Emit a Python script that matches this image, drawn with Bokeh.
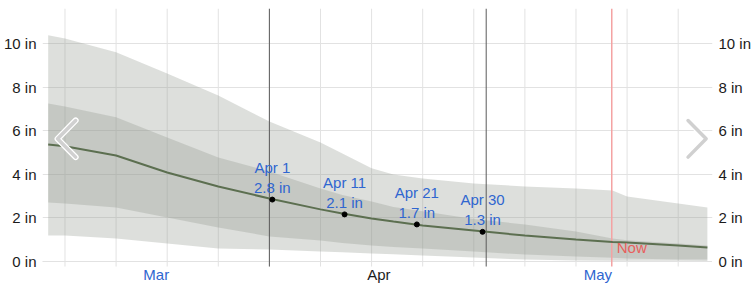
from bokeh.plotting import figure
from bokeh.models import Range1d, FixedTicker, LinearAxis, Span, Label
from bokeh.core.properties import value
from bokeh.embed import file_html
from bokeh.resources import INLINE

# ---- data (days since Mar 1, inches) ----
days = [0.7, 3, 10, 17, 24, 31, 38, 41, 45, 48, 52, 59, 66, 73, 78, 80, 87, 91]
outer_high = [10.37, 10.23, 9.59, 8.62, 7.61, 6.42, 5.46, 4.95, 4.27, 3.99, 3.81, 3.58, 3.44, 3.35, 3.26, 2.98, 2.66, 2.48]
inner_high = [7.25, 7.11, 6.61, 5.69, 4.77, 4.13, 3.35, 3.05, 2.75, 2.50, 2.30, 1.95, 1.70, 1.38, 1.06, 0.98, 0.83, 0.73]
median = [5.37, 5.28, 4.86, 4.08, 3.44, 2.89, 2.39, 2.20, 1.97, 1.83, 1.65, 1.42, 1.19, 1.01, 0.89, 0.87, 0.73, 0.64]
inner_low = [2.71, 2.66, 2.48, 2.02, 1.56, 1.15, 0.96, 0.85, 0.73, 0.66, 0.60, 0.46, 0.32, 0.23, 0.17, 0.14, 0.09, 0.09]
outer_low = [1.19, 1.19, 1.06, 0.83, 0.60, 0.55, 0.46, 0.42, 0.37, 0.33, 0.28, 0.18, 0.09, 0.05, 0.04, 0.04, 0.03, 0.02]

point_dates = ["Apr 1", "Apr 11", "Apr 21", "Apr 30"]
point_days = [31.4, 41.3, 51.2, 60.2]
point_values = [2.84, 2.16, 1.70, 1.36]
label_values = [2.8, 2.1, 1.7, 1.3]

marker_days = [31.0, 60.7]
now_day = 77.9
months = ["Mar", "Apr", "May"]
month_start_days = [0, 31, 61]
month_colors = ["#2f66d0", "#1b1b1b", "#2f66d0"]
y_ticks = [0, 2, 4, 6, 8, 10]
first_week_day = 3  # Mar 4

FONT = "Liberation Sans"
X0, X1 = -0.08, 91.7
GRID_BOTTOM = -0.23          # where the vertical rules stop
Y0, Y1 = -1.10, 11.6         # frame also holds the month row

p = figure(width=754, height=285, output_backend="svg", toolbar_location=None,
           x_range=Range1d(X0, X1), y_range=Range1d(Y0, Y1),
           x_axis_location=None, y_axis_location="left",
           min_border_left=0, min_border_right=0, min_border_top=8, min_border_bottom=0)
p.outline_line_color = None
p.background_fill_color = "white"
p.border_fill_color = "white"

# grids
p.xgrid.visible = False
p.ygrid.ticker = FixedTicker(ticks=[t for t in y_ticks if t > 0])
p.ygrid.grid_line_color = "#e2e2e2"
p.ygrid.grid_line_width = 1
week_ticks = [first_week_day + 7 * k for k in range(13)]
n = len(week_ticks)
p.segment(x0=week_ticks, y0=[GRID_BOTTOM] * n, x1=week_ticks, y1=[Y1] * n,
          line_color="#e2e2e2", line_width=1)
p.add_layout(Span(location=0, dimension="width", line_color="#c4c4c4",
                  line_width=1, line_dash="1 1", level="underlay"))

# y axes
def style_axis(ax):
    ax.ticker = FixedTicker(ticks=y_ticks)
    ax.major_label_overrides = {t: f"{t} in" for t in y_ticks}
    ax.axis_line_color = None
    ax.major_tick_line_color = None
    ax.minor_tick_line_color = None
    ax.major_label_standoff = 0
    ax.major_label_text_font = FONT
    ax.major_label_text_font_size = "15px"
    ax.major_label_text_color = "#1b1b1b"

style_axis(p.yaxis[0])
right_axis = LinearAxis()
style_axis(right_axis)
p.add_layout(right_axis, "right")

# bands
band_col = (142, 150, 138)
p.varea(x=days, y1=outer_low, y2=outer_high, fill_color=band_col, fill_alpha=0.3)
p.varea(x=days, y1=inner_low, y2=inner_high, fill_color=band_col, fill_alpha=0.3)

# marker lines
m = len(marker_days)
p.segment(x0=marker_days, y0=[GRID_BOTTOM] * m, x1=marker_days, y1=[Y1] * m,
          line_color="#5a5a5a", line_width=1)
p.segment(x0=[now_day], y0=[GRID_BOTTOM], x1=[now_day], y1=[Y1],
          line_color="#f4a3a3", line_width=1.5)

# median
p.line(days, median, line_color="#5c6f50", line_width=2)
p.scatter(point_days, point_values, size=5, color="black")

blue = "#2f66d0"
p.text(x=point_days, y=point_values, text=point_dates, y_offset=-32,
       text_align="center", text_baseline="middle", text_font=value(FONT),
       text_font_size="15px", text_color=blue)
p.text(x=point_days, y=point_values, text=[f"{v} in" for v in label_values], y_offset=-12,
       text_align="center", text_baseline="middle", text_font=value(FONT),
       text_font_size="15px", text_color=blue)

p.add_layout(Label(x=now_day, y=0.64, x_offset=5, text="Now", text_baseline="middle",
                   text_font=FONT, text_font_size="15px", text_color="#e8605c"))

# month labels (inside frame, below the rules)
x_end = days[-1]
month_x = [(s + min(e, x_end)) / 2 for s, e in zip(month_start_days, month_start_days[1:] + [x_end])]
p.text(x=month_x, y=[GRID_BOTTOM] * 3, text=months, y_offset=8,
       text_align="center", text_baseline="middle", text_font=value(FONT),
       text_font_size="15px", text_color=month_colors)

# navigation chevrons (decorative)
xs = (X1 - X0)
ys = (Y1 - GRID_BOTTOM)
def chevron(cx_frac, direction):
    w = 0.027 * xs
    h = 0.071 * ys
    cy = GRID_BOTTOM + 0.495 * ys
    cx = X0 + cx_frac * xs
    tip = cx - direction * w / 2
    back = cx + direction * w / 2
    return [back, tip, back], [cy + h, cy, cy - h]

for frac, dr in [(0.036, 1), (0.977, -1)]:
    cxs, cys = chevron(frac, dr)
    p.line(cxs, cys, line_color="white", line_width=6, line_cap="round", line_join="round")
    p.line(cxs, cys, line_color="#d0d0d0", line_width=3.5, line_cap="round", line_join="round")

open("out.html", "w").write(file_html(p, INLINE))
